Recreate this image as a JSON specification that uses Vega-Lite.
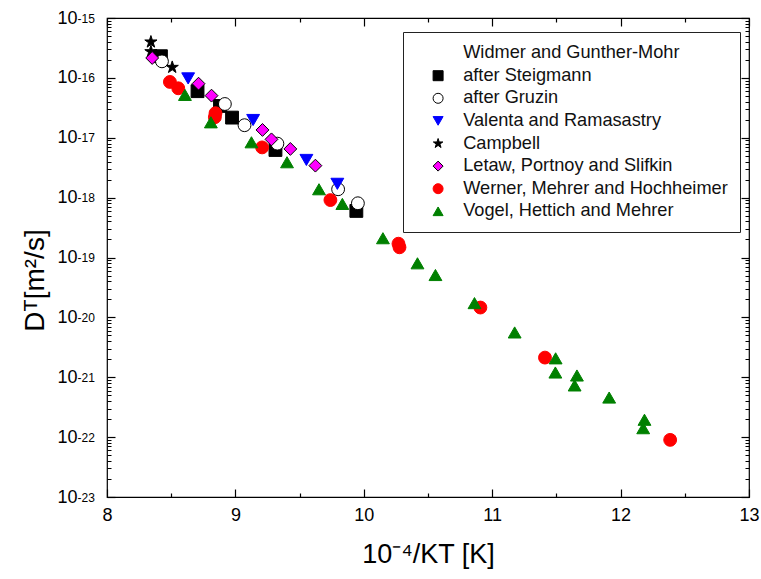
{
  "$schema": "https://vega.github.io/schema/vega-lite/v6.json",
  "width": 642,
  "height": 479,
  "autosize": {"type": "none"},
  "padding": {"left": 107, "top": 18, "right": 12, "bottom": 82},
  "background": "white",
  "config": {
    "view": {"stroke": "black", "strokeWidth": 1.2},
    "font": "Liberation Sans",
    "axis": {"grid": false, "domain": false, "labelFont": "Liberation Sans", "titleFont": "Liberation Sans", "labelColor": "black", "titleColor": "black", "tickColor": "black", "titleFontWeight": "normal"},
    "legend": {"orient": "none", "legendX": 296, "legendY": 14, "strokeColor": "#222222", "fillColor": "white", "padding": 12, "symbolOffset": 14, "labelOffset": 16, "labelFont": "Liberation Sans", "labelFontSize": 18.2, "labelColor": "#111111", "symbolSize": 100, "rowPadding": 3.6, "labelLimit": 400, "symbolStrokeWidth": 1}
  },
  "data": {"values": [
    {"series": "after Steigmann", "x": 8.42, "y": 2.3e-16},
    {"series": "after Steigmann", "x": 8.705, "y": 6.0e-17},
    {"series": "after Steigmann", "x": 8.88, "y": 3.4e-17},
    {"series": "after Steigmann", "x": 8.974, "y": 2.17e-17},
    {"series": "after Steigmann", "x": 9.312, "y": 6.25e-18},
    {"series": "after Steigmann", "x": 9.942, "y": 6.0e-19},
    {"series": "after Gruzin", "x": 8.428, "y": 1.89e-16},
    {"series": "after Gruzin", "x": 8.918, "y": 3.66e-17},
    {"series": "after Gruzin", "x": 9.071, "y": 1.62e-17},
    {"series": "after Gruzin", "x": 9.327, "y": 7.97e-18},
    {"series": "after Gruzin", "x": 9.80, "y": 1.38e-18},
    {"series": "after Gruzin", "x": 9.954, "y": 8.05e-19},
    {"series": "Valenta and Ramasastry", "x": 8.632, "y": 9.8e-17},
    {"series": "Valenta and Ramasastry", "x": 9.138, "y": 1.98e-17},
    {"series": "Valenta and Ramasastry", "x": 9.553, "y": 4.26e-18},
    {"series": "Valenta and Ramasastry", "x": 9.794, "y": 1.7e-18},
    {"series": "Campbell", "x": 8.342, "y": 3.98e-16},
    {"series": "Campbell", "x": 8.342, "y": 2.74e-16},
    {"series": "Campbell", "x": 8.508, "y": 1.5e-16},
    {"series": "Letaw, Portnoy and Slifkin", "x": 8.352, "y": 2.15e-16},
    {"series": "Letaw, Portnoy and Slifkin", "x": 8.713, "y": 8.0e-17},
    {"series": "Letaw, Portnoy and Slifkin", "x": 8.814, "y": 5.05e-17},
    {"series": "Letaw, Portnoy and Slifkin", "x": 9.211, "y": 1.35e-17},
    {"series": "Letaw, Portnoy and Slifkin", "x": 9.281, "y": 9.4e-18},
    {"series": "Letaw, Portnoy and Slifkin", "x": 9.428, "y": 6.5e-18},
    {"series": "Letaw, Portnoy and Slifkin", "x": 9.623, "y": 3.42e-18},
    {"series": "Werner, Mehrer and Hochheimer", "x": 8.49, "y": 8.55e-17},
    {"series": "Werner, Mehrer and Hochheimer", "x": 8.555, "y": 6.7e-17},
    {"series": "Werner, Mehrer and Hochheimer", "x": 8.845, "y": 2.57e-17},
    {"series": "Werner, Mehrer and Hochheimer", "x": 8.84, "y": 2.2e-17},
    {"series": "Werner, Mehrer and Hochheimer", "x": 9.208, "y": 6.9e-18},
    {"series": "Werner, Mehrer and Hochheimer", "x": 9.74, "y": 9.1e-19},
    {"series": "Werner, Mehrer and Hochheimer", "x": 10.27, "y": 1.7e-19},
    {"series": "Werner, Mehrer and Hochheimer", "x": 10.278, "y": 1.48e-19},
    {"series": "Werner, Mehrer and Hochheimer", "x": 10.908, "y": 1.46e-20},
    {"series": "Werner, Mehrer and Hochheimer", "x": 11.411, "y": 2.13e-21},
    {"series": "Werner, Mehrer and Hochheimer", "x": 12.386, "y": 9.0e-23},
    {"series": "Vogel, Hettich and Mehrer", "x": 8.607, "y": 5.2e-17},
    {"series": "Vogel, Hettich and Mehrer", "x": 8.809, "y": 1.81e-17},
    {"series": "Vogel, Hettich and Mehrer", "x": 9.125, "y": 8.4e-18},
    {"series": "Vogel, Hettich and Mehrer", "x": 9.402, "y": 3.9e-18},
    {"series": "Vogel, Hettich and Mehrer", "x": 9.651, "y": 1.38e-18},
    {"series": "Vogel, Hettich and Mehrer", "x": 9.833, "y": 7.85e-19},
    {"series": "Vogel, Hettich and Mehrer", "x": 10.149, "y": 2.1e-19},
    {"series": "Vogel, Hettich and Mehrer", "x": 10.418, "y": 8.0e-20},
    {"series": "Vogel, Hettich and Mehrer", "x": 10.558, "y": 5.1e-20},
    {"series": "Vogel, Hettich and Mehrer", "x": 10.862, "y": 1.73e-20},
    {"series": "Vogel, Hettich and Mehrer", "x": 11.175, "y": 5.6e-21},
    {"series": "Vogel, Hettich and Mehrer", "x": 11.494, "y": 2.07e-21},
    {"series": "Vogel, Hettich and Mehrer", "x": 11.492, "y": 1.2e-21},
    {"series": "Vogel, Hettich and Mehrer", "x": 11.66, "y": 1.07e-21},
    {"series": "Vogel, Hettich and Mehrer", "x": 11.642, "y": 7.3e-22},
    {"series": "Vogel, Hettich and Mehrer", "x": 11.911, "y": 4.58e-22},
    {"series": "Vogel, Hettich and Mehrer", "x": 12.186, "y": 1.95e-22},
    {"series": "Vogel, Hettich and Mehrer", "x": 12.176, "y": 1.41e-22}
  ]},
  "resolve": {"axis": {"x": "independent", "y": "independent"}},
  "layer": [
    {
      "mark": {"type": "point", "filled": true, "strokeWidth": 1, "opacity": 1, "size": 165},
      "encoding": {
        "x": {"field": "x", "type": "quantitative", "scale": {"domain": [8, 13], "nice": false, "zero": false},
          "axis": {"orient": "bottom", "values": [8, 9, 10, 11, 12, 13], "ticks": false, "labelFontSize": 18, "labelPadding": 9, "labelFlush": false, "title": "10⁻⁴/KT [K]", "titleFontSize": 27, "titlePadding": 17}},
        "y": {"field": "y", "type": "quantitative", "scale": {"type": "log", "domain": [1e-23, 1e-15], "nice": false},
          "axis": {"orient": "left", "values": [1e-23, 1e-22, 1e-21, 1e-20, 1e-19, 1e-18, 1e-17, 1e-16, 1e-15], "ticks": false, "labelFontSize": 18, "labelPadding": 30, "labelAlign": "right", "labelFlush": false,
            "labelExpr": "'10'",
            "title": "Dᵀ[m²/s]", "titleFontSize": 28, "titleX": -64, "titleY": 262, "titleAngle": -90, "titleAlign": "center", "titleBaseline": "alphabetic"}},
        "fill": {"field": "series", "type": "nominal",
          "scale": {"domain": ["Widmer and Gunther-Mohr", "after Steigmann", "after Gruzin", "Valenta and Ramasastry", "Campbell", "Letaw, Portnoy and Slifkin", "Werner, Mehrer and Hochheimer", "Vogel, Hettich and Mehrer"],
            "range": ["transparent", "black", "white", "#0000ff", "black", "#ff00ff", "#ff0000", "#008000"]},
          "legend": {"title": null}},
        "stroke": {"field": "series", "type": "nominal",
          "scale": {"domain": ["Widmer and Gunther-Mohr", "after Steigmann", "after Gruzin", "Valenta and Ramasastry", "Campbell", "Letaw, Portnoy and Slifkin", "Werner, Mehrer and Hochheimer", "Vogel, Hettich and Mehrer"],
            "range": ["transparent", "black", "black", "#0000ff", "black", "black", "#ff0000", "#008000"]},
          "legend": {"title": null}},
        "shape": {"field": "series", "type": "nominal",
          "scale": {"domain": ["Widmer and Gunther-Mohr", "after Steigmann", "after Gruzin", "Valenta and Ramasastry", "Campbell", "Letaw, Portnoy and Slifkin", "Werner, Mehrer and Hochheimer", "Vogel, Hettich and Mehrer"],
            "range": ["circle", "square", "circle", "triangle-down", "M0,-1L0.2245,-0.309L0.951,-0.309L0.3633,0.118L0.588,0.809L0,0.382L-0.588,0.809L-0.3633,0.118L-0.951,-0.309L-0.2245,-0.309Z", "diamond", "circle", "triangle-up"]},
          "legend": {"title": null}}
      }
    },
    {
      "mark": {"type": "point", "opacity": 0},
      "encoding": {
        "x": {"field": "x", "type": "quantitative", "scale": {"domain": [8, 13], "nice": false, "zero": false}, "axis": null},
        "y": {"field": "y", "type": "quantitative", "scale": {"type": "log", "domain": [1e-23, 1e-15], "nice": false},
          "axis": {"orient": "left", "values": [1e-23, 1e-22, 1e-21, 1e-20, 1e-19, 1e-18, 1e-17, 1e-16, 1e-15], "ticks": false, "labelFontSize": 12, "labelPadding": 30, "labelAlign": "left", "labelDy": -7, "labelFlush": false,
            "labelExpr": "'' + round(log(datum.value)/LN10)", "title": null}}
      }
    },
    {
      "mark": {"type": "point", "opacity": 0},
      "encoding": {
        "x": {"field": "x", "type": "quantitative", "scale": {"domain": [8, 13], "nice": false, "zero": false},
          "axis": {"orient": "bottom", "values": [8, 9, 10, 11, 12, 13], "labels": false, "tickSize": -8, "tickWidth": 1.2, "title": null}},
        "y": {"field": "y", "type": "quantitative", "scale": {"type": "log", "domain": [1e-23, 1e-15], "nice": false},
          "axis": {"orient": "left", "values": [1e-23, 1e-22, 1e-21, 1e-20, 1e-19, 1e-18, 1e-17, 1e-16, 1e-15], "labels": false, "tickSize": -8, "tickWidth": 1.2, "title": null}}
      }
    },
    {
      "mark": {"type": "point", "opacity": 0},
      "encoding": {
        "x": {"field": "x", "type": "quantitative", "scale": {"domain": [8, 13], "nice": false, "zero": false},
          "axis": {"orient": "bottom", "values": [8.5, 9.5, 10.5, 11.5, 12.5], "labels": false, "tickSize": -4, "tickWidth": 1.2, "title": null}},
        "y": {"field": "y", "type": "quantitative", "scale": {"type": "log", "domain": [1e-23, 1e-15], "nice": false},
          "axis": {"orient": "left", "values": [2e-23, 3e-23, 4e-23, 5e-23, 6e-23, 7e-23, 8e-23, 9e-23, 2e-22, 3e-22, 4e-22, 5e-22, 6e-22, 7e-22, 8e-22, 9e-22, 2e-21, 3e-21, 4e-21, 5e-21, 6e-21, 7e-21, 8e-21, 9e-21, 2e-20, 3e-20, 4e-20, 5e-20, 6e-20, 7e-20, 8e-20, 9e-20, 2e-19, 3e-19, 4e-19, 5e-19, 6e-19, 7e-19, 8e-19, 9e-19, 2e-18, 3e-18, 4e-18, 5e-18, 6e-18, 7e-18, 8e-18, 9e-18, 2e-17, 3e-17, 4e-17, 5e-17, 6e-17, 7e-17, 8e-17, 9e-17, 2e-16, 3e-16, 4e-16, 5e-16, 6e-16, 7e-16, 8e-16, 9e-16], "labels": false, "tickSize": -4, "tickWidth": 1, "title": null}}
      }
    },
    {
      "mark": {"type": "point", "opacity": 0},
      "encoding": {
        "x": {"field": "x", "type": "quantitative", "scale": {"domain": [8, 13], "nice": false, "zero": false},
          "axis": {"orient": "top", "values": [8, 9, 10, 11, 12, 13], "labels": false, "tickSize": -8, "tickWidth": 1.2, "title": null}},
        "y": {"field": "y", "type": "quantitative", "scale": {"type": "log", "domain": [1e-23, 1e-15], "nice": false},
          "axis": {"orient": "right", "values": [1e-23, 1e-22, 1e-21, 1e-20, 1e-19, 1e-18, 1e-17, 1e-16, 1e-15], "labels": false, "tickSize": -8, "tickWidth": 1.2, "title": null}}
      }
    },
    {
      "mark": {"type": "point", "opacity": 0},
      "encoding": {
        "x": {"field": "x", "type": "quantitative", "scale": {"domain": [8, 13], "nice": false, "zero": false},
          "axis": {"orient": "top", "values": [8.5, 9.5, 10.5, 11.5, 12.5], "labels": false, "tickSize": -4, "tickWidth": 1.2, "title": null}},
        "y": {"field": "y", "type": "quantitative", "scale": {"type": "log", "domain": [1e-23, 1e-15], "nice": false},
          "axis": {"orient": "right", "values": [2e-23, 3e-23, 4e-23, 5e-23, 6e-23, 7e-23, 8e-23, 9e-23, 2e-22, 3e-22, 4e-22, 5e-22, 6e-22, 7e-22, 8e-22, 9e-22, 2e-21, 3e-21, 4e-21, 5e-21, 6e-21, 7e-21, 8e-21, 9e-21, 2e-20, 3e-20, 4e-20, 5e-20, 6e-20, 7e-20, 8e-20, 9e-20, 2e-19, 3e-19, 4e-19, 5e-19, 6e-19, 7e-19, 8e-19, 9e-19, 2e-18, 3e-18, 4e-18, 5e-18, 6e-18, 7e-18, 8e-18, 9e-18, 2e-17, 3e-17, 4e-17, 5e-17, 6e-17, 7e-17, 8e-17, 9e-17, 2e-16, 3e-16, 4e-16, 5e-16, 6e-16, 7e-16, 8e-16, 9e-16], "labels": false, "tickSize": -4, "tickWidth": 1, "title": null}}
      }
    }
  ]
}
